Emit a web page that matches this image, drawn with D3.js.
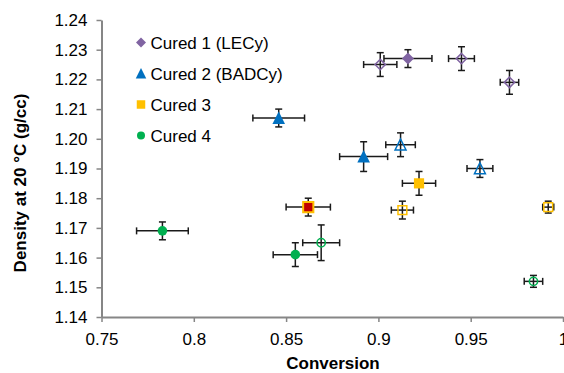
<!DOCTYPE html>
<html>
<head>
<meta charset="utf-8">
<script src="https://cdn.jsdelivr.net/npm/d3@7"></script>
<style>
  body { margin: 0; background: #fff; }
  text { font-family: "Liberation Sans", Arial, sans-serif; }
</style>
</head>
<body>
<div class="chart"></div>
<script>
// series values
var seriesNames = ['Cured 1 (LECy)', 'Cured 2 (BADCy)', 'Cured 3', 'Cured 4'];
var seriesColors = ['#8064A2', '#0070C0', '#FFC000', '#00B050'];
var seriesShapes = ['diamond', 'triangle', 'square', 'circle'];

// [conversion, density, xErr, yErr, filled]
var cured1 = [
    [0.916, 1.227, 0.013, 0.003, 1],
    [0.901, 1.225, 0.009, 0.004, 0],
    [0.945, 1.227, 0.007, 0.004, 0],
    [0.971, 1.219, 0.005, 0.004, 0]
];
var cured2 = [
    [0.846, 1.207, 0.014, 0.003, 1],
    [0.892, 1.194, 0.013, 0.005, 1],
    [0.912, 1.198, 0.008, 0.004, 0],
    [0.955, 1.190, 0.007, 0.003, 0]
];
var cured3 = [
    [0.922, 1.185, 0.009, 0.004, 1],
    [0.862, 1.177, 0.012, 0.003, 2],
    [0.913, 1.176, 0.006, 0.003, 0],
    [0.992, 1.177, 0.003, 0.002, 0]
];
var cured4 = [
    [0.783, 1.169, 0.014, 0.003, 1],
    [0.855, 1.161, 0.012, 0.004, 1],
    [0.869, 1.165, 0.010, 0.006, 0],
    [0.984, 1.152, 0.005, 0.002, 0]
];
var allSeries = [cured1, cured2, cured3, cured4];

var xTicks = [0.75, 0.8, 0.85, 0.9, 0.95, 1];
var yTicks = [1.14, 1.15, 1.16, 1.17, 1.18, 1.19, 1.20, 1.21, 1.22, 1.23, 1.24];

var width = 564, height = 373;
var svg = d3.select('.chart').append('svg')
    .attr('width', width)
    .attr('height', height);

var x = d3.scaleLinear().domain([0.75, 1]).range([101.5, 563]);
var y = d3.scaleLinear().domain([1.14, 1.24]).range([317, 20]);

var axisColor = '#868686';
var fontSize = '17px';

// y axis
var yAxis = svg.append('g')
    .attr('transform', 'translate(' + x(0.75) + ',0)')
    .call(d3.axisLeft(y).tickValues(yTicks).tickSize(5).tickSizeOuter(0)
        .tickFormat(function (d) { return d.toFixed(2) }));
// x axis
var xAxis = svg.append('g')
    .attr('transform', 'translate(0,' + y(1.14) + ')')
    .call(d3.axisBottom(x).tickValues(xTicks).tickSize(5).tickSizeOuter(0)
        .tickFormat(function (d) { return d3.format('')(+d.toFixed(2)) }));

[xAxis, yAxis].forEach(function (a) {
    a.select('.domain').attr('stroke', axisColor).attr('stroke-width', 2);
    a.selectAll('.tick line').attr('stroke', axisColor).attr('stroke-width', 1.5);
    a.selectAll('.tick text').attr('fill', '#000').style('font-size', fontSize)
        .style('font-family', '"Liberation Sans", Arial, sans-serif');
});
yAxis.selectAll('.tick text').attr('x', -14);
xAxis.selectAll('.tick text').attr('y', 16);

// axis titles
svg.append('text')
    .text('Conversion')
    .attr('x', 333).attr('y', 369)
    .attr('text-anchor', 'middle')
    .style('font-size', fontSize).style('font-weight', 'bold');
svg.append('text')
    .text('Density at 20 °C (g/cc)')
    .attr('text-anchor', 'middle')
    .attr('transform', 'translate(26,183) rotate(-90)')
    .style('font-size', fontSize).style('font-weight', 'bold');

// error bars first, markers on top
var cap = 3.5;
allSeries.forEach(function (pts) {
    var g = svg.append('g').attr('stroke', '#1a1a1a').attr('stroke-width', 1.5);
    pts.forEach(function (p) {
        var cx = x(p[0]), cy = y(p[1]);
        var x0 = x(p[0] - p[2]), x1 = x(p[0] + p[2]);
        var y0 = y(p[1] - p[3]), y1 = y(p[1] + p[3]);
        g.append('line').attr('x1', x0).attr('x2', x1).attr('y1', cy).attr('y2', cy);
        g.append('line').attr('x1', x0).attr('x2', x0).attr('y1', cy - cap).attr('y2', cy + cap);
        g.append('line').attr('x1', x1).attr('x2', x1).attr('y1', cy - cap).attr('y2', cy + cap);
        g.append('line').attr('x1', cx).attr('x2', cx).attr('y1', y0).attr('y2', y1);
        g.append('line').attr('x1', cx - cap).attr('x2', cx + cap).attr('y1', y0).attr('y2', y0);
        g.append('line').attr('x1', cx - cap).attr('x2', cx + cap).attr('y1', y1).attr('y2', y1);
    });
});

function shapePath(shape, r) {
    if (shape == 'diamond') return 'M0,' + (-r) + ' L' + r + ',0 L0,' + r + ' L' + (-r) + ',0 Z';
    if (shape == 'triangle') return 'M0,' + (-r * 1.1) + ' L' + (r * 1.05) + ',' + r + ' L' + (-r * 1.05) + ',' + r + ' Z';
    if (shape == 'square') {
        var h = r * 0.85;
        return 'M' + (-h) + ',' + (-h) + ' L' + h + ',' + (-h) + ' L' + h + ',' + h + ' L' + (-h) + ',' + h + ' Z';
    }
    return d3.symbol(d3.symbolCircle, Math.PI * (r * 0.8) * (r * 0.8))();
}

allSeries.forEach(function (pts, i) {
    svg.append('g').selectAll('path')
        .data(pts)
        .enter()
        .append('path')
        .attr('d', function (d) { return shapePath(seriesShapes[i], d[4] ? 6 : 5.2) })
        .attr('transform', function (d) {
            return 'translate(' + x(d[0]) + ',' + y(d[1]) + ')';
        })
        .attr('fill', function (d) {
            if (d[4] == 2) return '#C00000';
            return d[4] ? seriesColors[i] : 'none';
        })
        .attr('stroke', seriesColors[i])
        .attr('stroke-width', function (d) { return d[4] == 2 ? 2 : (d[4] ? 0 : 1.5) });
});

// legend
var legend = svg.append('g').selectAll('g')
    .data(seriesNames)
    .enter()
    .append('g')
    .attr('transform', function (d, i) { return 'translate(141,' + (42.5 + i * 31) + ')' });
legend.append('path')
    .attr('d', function (d, i) { return shapePath(seriesShapes[i], 5) })
    .attr('fill', function (d, i) { return seriesColors[i] });
legend.append('text')
    .text(function (d) { return d })
    .attr('x', 9.5).attr('y', 6)
    .style('font-size', fontSize);
</script>
</body>
</html>
